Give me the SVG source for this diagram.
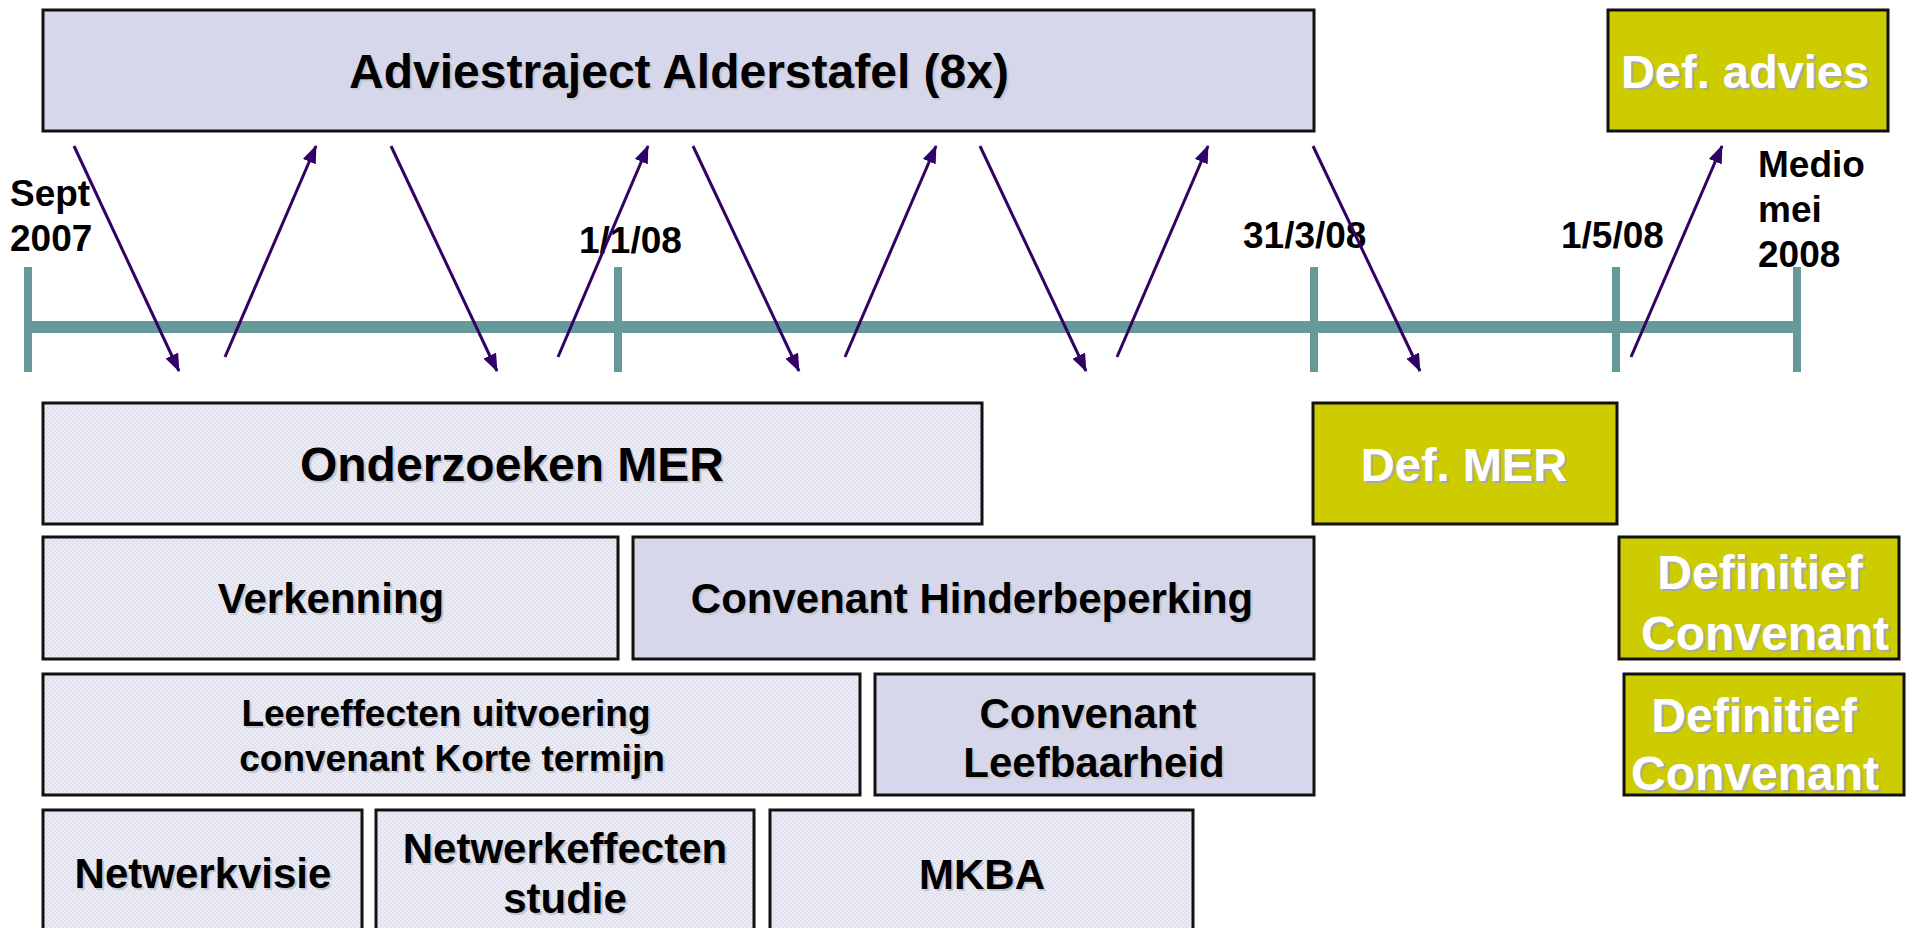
<svg xmlns="http://www.w3.org/2000/svg" width="1910" height="928" viewBox="0 0 1910 928">
<style>
.box{stroke:#111;stroke-width:3}
.tex{fill:url(#dots)}
.lav{fill:#D6D7EB}
.yel{fill:#CCCC00}
.t{font-family:"Liberation Sans",Arial,sans-serif;font-weight:bold;text-anchor:middle}
.tl{font-family:"Liberation Sans",Arial,sans-serif;font-weight:bold;fill:#000}
.blk{fill:#000}
.wht{fill:#fff}
.shb{fill:#c4c4cc}
.shw{fill:#a8a8b0}
.arr{stroke:#330066;stroke-width:3;fill:none;marker-end:url(#ah)}
.tick{stroke:#669999;stroke-width:8}
</style>
<defs>
<pattern id="dots" width="4" height="4" patternUnits="userSpaceOnUse">
<rect width="4" height="4" fill="#ECECF6"/>
<rect width="2" height="2" fill="#E1E1EE"/>
<rect x="2" y="2" width="2" height="2" fill="#E1E1EE"/>
</pattern>
<marker id="ah" markerUnits="userSpaceOnUse" markerWidth="18" markerHeight="14" refX="17" refY="7" orient="auto">
<path d="M0,0 L18,7 L0,14 Z" fill="#330066"/>
</marker>
</defs>
<rect width="1910" height="928" fill="#fff"/>

<g id="timeline">
<line x1="28" y1="327" x2="1798" y2="327" stroke="#669999" stroke-width="12"/>
<line class="tick" x1="28" y1="267" x2="28" y2="372"/>
<line class="tick" x1="618" y1="267" x2="618" y2="372"/>
<line class="tick" x1="1314" y1="267" x2="1314" y2="372"/>
<line class="tick" x1="1616" y1="267" x2="1616" y2="372"/>
<line class="tick" x1="1797" y1="267" x2="1797" y2="372"/>
<text class="tl" font-size="37" x="10" y="206">Sept</text>
<text class="tl" font-size="37" x="10" y="251">2007</text>
<text class="tl" font-size="37" x="579" y="253">1/1/08</text>
<text class="tl" font-size="37" x="1243" y="248">31/3/08</text>
<text class="tl" font-size="37" x="1561" y="248">1/5/08</text>
<text class="tl" font-size="37" x="1758" y="177">Medio</text>
<text class="tl" font-size="37" x="1758" y="222">mei</text>
<text class="tl" font-size="37" x="1758" y="267">2008</text>
</g>

<g id="adviestraject">
<rect class="box lav" x="43" y="10" width="1271" height="121"/>
<text class="t shb" font-size="48" x="681" y="90">Adviestraject Alderstafel (8x)</text>
<text class="t blk" font-size="48" x="679" y="88">Adviestraject Alderstafel (8x)</text>
</g>

<g id="def-advies">
<rect class="box yel" x="1608" y="10" width="280" height="121"/>
<text class="t shw" font-size="47" x="1747" y="90">Def. advies</text>
<text class="t wht" font-size="47" x="1745" y="88">Def. advies</text>
</g>

<g id="onderzoeken-mer">
<rect class="box tex" x="43" y="403" width="939" height="121"/>
<text class="t shb" font-size="48" x="514" y="483">Onderzoeken MER</text>
<text class="t blk" font-size="48" x="512" y="481">Onderzoeken MER</text>
</g>

<g id="def-mer">
<rect class="box yel" x="1313" y="403" width="304" height="121"/>
<text class="t shw" font-size="47" x="1466" y="483">Def. MER</text>
<text class="t wht" font-size="47" x="1464" y="481">Def. MER</text>
</g>

<g id="verkenning">
<rect class="box tex" x="43" y="537" width="575" height="122"/>
<text class="t shb" font-size="42" x="333" y="615">Verkenning</text>
<text class="t blk" font-size="42" x="331" y="613">Verkenning</text>
</g>

<g id="convenant-hinderbeperking">
<rect class="box lav" x="633" y="537" width="681" height="122"/>
<text class="t shb" font-size="42" x="974" y="615">Convenant Hinderbeperking</text>
<text class="t blk" font-size="42" x="972" y="613">Convenant Hinderbeperking</text>
</g>

<g id="definitief-convenant-1">
<rect class="box yel" x="1619" y="537" width="280" height="122"/>
<text class="t shw" font-size="48" x="1762" y="591">Definitief</text>
<text class="t wht" font-size="48" x="1760" y="589">Definitief</text>
<text class="t shw" font-size="48" x="1767" y="652">Convenant</text>
<text class="t wht" font-size="48" x="1765" y="650">Convenant</text>
</g>

<g id="leereffecten">
<rect class="box tex" x="43" y="674" width="817" height="121"/>
<text class="t shb" font-size="37" x="448" y="728">Leereffecten uitvoering</text>
<text class="t blk" font-size="37" x="446" y="726">Leereffecten uitvoering</text>
<text class="t shb" font-size="37" x="454" y="773">convenant Korte termijn</text>
<text class="t blk" font-size="37" x="452" y="771">convenant Korte termijn</text>
</g>

<g id="convenant-leefbaarheid">
<rect class="box lav" x="875" y="674" width="439" height="121"/>
<text class="t shb" font-size="42" x="1090" y="730">Convenant</text>
<text class="t blk" font-size="42" x="1088" y="728">Convenant</text>
<text class="t shb" font-size="42" x="1096" y="779">Leefbaarheid</text>
<text class="t blk" font-size="42" x="1094" y="777">Leefbaarheid</text>
</g>

<g id="definitief-convenant-2">
<rect class="box yel" x="1624" y="674" width="280" height="121"/>
<text class="t shw" font-size="48" x="1756" y="734">Definitief</text>
<text class="t wht" font-size="48" x="1754" y="732">Definitief</text>
<text class="t shw" font-size="48" x="1757" y="792">Convenant</text>
<text class="t wht" font-size="48" x="1755" y="790">Convenant</text>
</g>

<g id="netwerkvisie">
<rect class="box tex" x="43" y="810" width="319" height="150"/>
<text class="t shb" font-size="42" x="205" y="890">Netwerkvisie</text>
<text class="t blk" font-size="42" x="203" y="888">Netwerkvisie</text>
</g>

<g id="netwerkeffecten">
<rect class="box tex" x="376" y="810" width="378" height="150"/>
<text class="t shb" font-size="42" x="567" y="865">Netwerkeffecten</text>
<text class="t blk" font-size="42" x="565" y="863">Netwerkeffecten</text>
<text class="t shb" font-size="42" x="567" y="915">studie</text>
<text class="t blk" font-size="42" x="565" y="913">studie</text>
</g>

<g id="mkba">
<rect class="box tex" x="770" y="810" width="423" height="150"/>
<text class="t shb" font-size="42" x="984" y="891">MKBA</text>
<text class="t blk" font-size="42" x="982" y="889">MKBA</text>
</g>

<g id="connectors">
<line class="arr" x1="74" y1="146" x2="179" y2="371"/>
<line class="arr" x1="225" y1="357" x2="316" y2="146"/>
<line class="arr" x1="391" y1="146" x2="497" y2="371"/>
<line class="arr" x1="558" y1="357" x2="648" y2="146"/>
<line class="arr" x1="693" y1="146" x2="799" y2="371"/>
<line class="arr" x1="845" y1="357" x2="936" y2="146"/>
<line class="arr" x1="980" y1="146" x2="1086" y2="371"/>
<line class="arr" x1="1117" y1="357" x2="1208" y2="146"/>
<line class="arr" x1="1313" y1="146" x2="1420" y2="371"/>
<line class="arr" x1="1631" y1="357" x2="1722" y2="146"/>
</g>
</svg>
